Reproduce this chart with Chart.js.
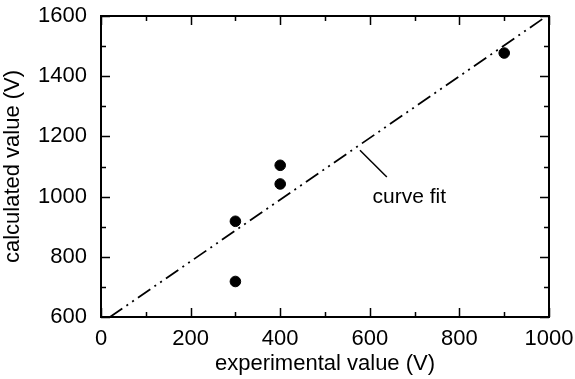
<!DOCTYPE html>
<html>
<head>
<meta charset="utf-8">
<script src="https://cdn.jsdelivr.net/npm/chart.js@4.4.0/dist/chart.umd.min.js"></script>
<style>
  html, body { margin: 0; padding: 0; background: #fff; }
  #wrap { width: 575px; height: 379px; }
</style>
</head>
<body>
<div id="wrap"><canvas id="myChart" width="575" height="379"></canvas></div>
<script>
// measured points
const expX = [300, 300, 400, 400, 900];
const calcY = [918, 718, 1104, 1042, 1477];

// fitted line ends
const fitX = [20, 1000];
const fitY = [600, 1605];

const xTicks = [0, 200, 400, 600, 800, 1000];
const yTicks = [600, 800, 1000, 1200, 1400, 1600];

// label "curve fit" and its leader line, in data units
const fitLabel = { text: 'curve fit', x: 688, y: 998 };
const leader = [[578, 1154], [638, 1065]];

const FONT = '"Liberation Sans", Arial, sans-serif';

const framePlugin = {
  id: 'frame',
  afterDraw(chart) {
    const { ctx, chartArea: a, scales: { x, y } } = chart;
    ctx.save();
    ctx.strokeStyle = '#000';
    ctx.lineWidth = 2;
    ctx.strokeRect(a.left, a.top, a.right - a.left, a.bottom - a.top);

    ctx.lineWidth = 1.5;
    ctx.beginPath();
    for (let v = 0; v <= 1000; v += 100) {
      const px = Math.round(x.getPixelForValue(v)) + 0.5;
      const len = v % 200 === 0 ? 9 : 5;
      ctx.moveTo(px, a.bottom); ctx.lineTo(px, a.bottom - len);
      ctx.moveTo(px, a.top); ctx.lineTo(px, a.top + len);
    }
    for (let v = 600; v <= 1600; v += 100) {
      const py = Math.round(y.getPixelForValue(v)) + 0.5;
      const len = v % 200 === 0 ? 9 : 5;
      ctx.moveTo(a.left, py); ctx.lineTo(a.left + len, py);
      ctx.moveTo(a.right, py); ctx.lineTo(a.right - len, py);
    }
    ctx.stroke();

    // annotation
    ctx.lineWidth = 1.5;
    ctx.beginPath();
    ctx.moveTo(x.getPixelForValue(leader[0][0]), y.getPixelForValue(leader[0][1]));
    ctx.lineTo(x.getPixelForValue(leader[1][0]), y.getPixelForValue(leader[1][1]));
    ctx.stroke();
    ctx.fillStyle = '#000';
    ctx.font = '21px ' + FONT;
    ctx.textAlign = 'center';
    ctx.textBaseline = 'middle';
    ctx.fillText(fitLabel.text, x.getPixelForValue(fitLabel.x), y.getPixelForValue(fitLabel.y));
    ctx.restore();
  }
};

const ctx = document.getElementById('myChart').getContext('2d');
new Chart(ctx, {
  data: {
    datasets: [
      {
        type: 'line',
        data: fitX.map((v, i) => ({ x: v, y: fitY[i] })),
        borderColor: '#000',
        borderWidth: 1.8,
        borderDash: [15, 5, 2, 5, 2, 5],
        pointRadius: 0,
        fill: false
      },
      {
        type: 'scatter',
        data: expX.map((v, i) => ({ x: v, y: calcY[i] })),
        backgroundColor: '#000',
        borderColor: '#000',
        pointRadius: 5.3,
        pointHoverRadius: 5.3
      }
    ]
  },
  options: {
    responsive: false,
    animation: false,
    layout: { padding: { top: 16, right: 26, left: 0, bottom: 0 } },
    plugins: { legend: { display: false }, tooltip: { enabled: false } },
    scales: {
      x: {
        type: 'linear',
        min: 0, max: 1000,
        afterBuildTicks: s => { s.ticks = xTicks.map(v => ({ value: v })); },
        afterFit: s => { s.height = 62; s.paddingLeft = 0; s.paddingRight = 0; },
        grid: { display: false, drawTicks: false },
        border: { display: false },
        ticks: { color: '#000', font: { family: FONT, size: 22 }, padding: 9, maxRotation: 0,
                 callback: v => String(v) },
        title: {
          display: true, text: 'experimental value (V)', color: '#000',
          font: { family: FONT, size: 22 }, padding: { top: 0, bottom: 2 }
        }
      },
      y: {
        type: 'linear',
        min: 600, max: 1600,
        afterBuildTicks: s => { s.ticks = yTicks.map(v => ({ value: v })); },
        afterFit: s => { s.width = 101; s.paddingTop = 0; s.paddingBottom = 0; },
        grid: { display: false, drawTicks: false },
        border: { display: false },
        ticks: { color: '#000', font: { family: FONT, size: 22 }, padding: 14,
                 callback: v => String(v) },
        title: {
          display: true, text: 'calculated value (V)', color: '#000',
          font: { family: FONT, size: 22 }, padding: { top: 0, bottom: 0 }
        }
      }
    }
  },
  plugins: [framePlugin]
});
</script>
</body>
</html>
